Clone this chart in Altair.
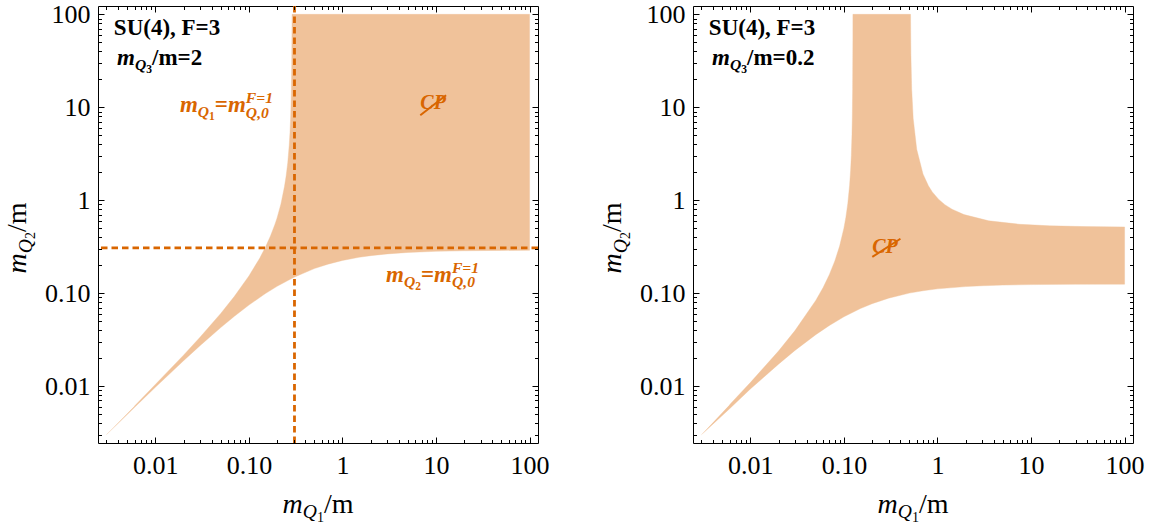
import altair as alt
import pandas as pd

# ---------------- data ----------------
LOG_LO, LOG_HI = -2.613, 2.09
domain = [10 ** LOG_LO, 10 ** LOG_HI]

major_ticks = [0.01, 0.1, 1, 10, 100]
minor_ticks = [0.003, 0.004, 0.005, 0.006, 0.007, 0.008, 0.009,
               0.02, 0.03, 0.04, 0.05, 0.06, 0.07, 0.08, 0.09,
               0.2, 0.3, 0.4, 0.5, 0.6, 0.7, 0.8, 0.9,
               2, 3, 4, 5, 6, 7, 8, 9,
               20, 30, 40, 50, 60, 70, 80, 90]

# left panel (m_Q3/m = 2): boundary of the shaded region
L_lower_x = [0.003, 0.006, 0.01, 0.02, 0.03, 0.05, 0.07, 0.1, 0.15, 0.2, 0.3,
             0.5, 0.7, 1, 1.5, 2, 3, 5, 10, 20, 50, 100]
L_lower_y = [0.003, 0.0059, 0.0097, 0.0187, 0.0272, 0.0426, 0.0564, 0.0744, 0.0989,
             0.1183, 0.1474, 0.1835, 0.205, 0.2247, 0.2429, 0.2532, 0.2643, 0.274,
             0.2817, 0.2857, 0.2882, 0.289]
L_upper_x = [0.289, 0.2888, 0.287, 0.284, 0.28, 0.275, 0.27, 0.26, 0.25, 0.24, 0.22,
             0.2, 0.19, 0.17, 0.15, 0.13, 0.1, 0.07, 0.05, 0.03, 0.02, 0.01, 0.006]
L_upper_y = [100, 79, 29.1, 14.1, 8.24, 5.37, 3.94, 2.52, 1.82, 1.40, 0.913,
             0.645, 0.552, 0.411, 0.311, 0.236, 0.153, 0.0923, 0.0604, 0.0335, 0.0215,
             0.0104, 0.0061]
mq0_F1 = 0.307

# right panel (m_Q3/m = 0.2)
R_lower_x = [0.003, 0.006, 0.01, 0.02, 0.03, 0.05, 0.07, 0.1, 0.15, 0.2, 0.3, 0.5,
             0.7, 1, 2, 3, 5, 10, 30, 100]
R_lower_y = [0.003, 0.0057, 0.0093, 0.0172, 0.0242, 0.0357, 0.0449, 0.0556, 0.0682,
             0.0769, 0.0882, 0.1, 0.1061, 0.1111, 0.1176, 0.12, 0.122, 0.1235,
             0.1245, 0.1248]
R_corner_x = [100, 37, 15.8, 7.59, 3.53, 1.92, 1.43, 1.2, 1.026, 0.88, 0.8, 0.7,
              0.6, 0.55, 0.53, 0.52, 0.5155]
R_corner_y = [0.5155, 0.52, 0.53, 0.55, 0.6, 0.7, 0.8, 0.8955, 1.0253, 1.229, 1.4286,
              1.918, 3.53, 7.59, 15.8, 37, 100]
R_upper_x = [0.1248, 0.1247, 0.124, 0.123, 0.122, 0.12, 0.118, 0.115, 0.11, 0.105,
             0.1, 0.09, 0.08, 0.07, 0.06, 0.05, 0.03, 0.02, 0.01, 0.006]
R_upper_y = [100, 52, 15.5, 7.69, 5.08, 3.0, 2.11, 1.44, 0.917, 0.656,
             0.5, 0.321, 0.222, 0.159, 0.115, 0.0833, 0.0395, 0.0238, 0.0109, 0.0063]

# ---------------- style ----------------
FILL = "#F0C29A"
ORANGE = "#D96600"
FONT = "Liberation Serif"
W, H = 440, 437

LABEL_EXPR = ("datum.value < 0.05 ? '0.01' : datum.value < 0.5 ? '0.10' : "
              "datum.value < 5 ? '1' : datum.value < 50 ? '10' : '100'")

REG = {'0': 500, '1': 500, '2': 500, '3': 500, '4': 500, '.': 250, ',': 250, '/': 278,
       'm': 778, '=': 564, ' ': 250, '(': 333, ')': 333}
ITA = {'m': 722, 'Q': 722, 'F': 611, '=': 675, ',': 250, '/': 278}
BLD = {'S': 556, 'U': 722, '(': 333, ')': 333, ',': 250, ' ': 250, 'F': 611, '=': 570,
       '/': 278, 'm': 833, '.': 250}
BIT = {'m': 778, 'Q': 722, 'F': 667, '=': 570, ',': 250, 'C': 667, 'P': 611}


def seg_width(text, size, bold, italic):
    table = {(False, False): REG, (False, True): ITA,
             (True, False): BLD, (True, True): BIT}[(bold, italic)]
    return sum(table.get(c, 500) for c in text) * size / 1000.0


def rich(segments, enc, data, color, angle=0, center=False):
    offs = []
    pos = 0.0
    for (t, s, b, i, sh, adv) in segments:
        offs.append(pos)
        if adv:
            pos += seg_width(t, s, b, i)
    start = -pos / 2 if center else 0.0
    layers = []
    for (t, s, b, i, sh, adv), o in zip(segments, offs):
        kw = dict(text=t, align="left", baseline="alphabetic", dx=start + o, dy=sh,
                  fontSize=s, font=FONT, color=color,
                  fontWeight="bold" if b else "normal",
                  fontStyle="italic" if i else "normal")
        if angle:
            kw["angle"] = angle
        layers.append(alt.Chart(data).mark_text(**kw).encode(**enc))
    return layers


def axis(orient, values, size, labels):
    kw = dict(orient=orient, values=values, tickSize=size, offset=-size,
              domain=False, grid=False, ticks=True, tickColor="black", tickWidth=1,
              labels=labels, title=None, zindex=1)
    if labels:
        kw.update(labelFont=FONT, labelFontSize=26, labelColor="black",
                  labelPadding=9 if orient == "bottom" else 8,
                  labelExpr=LABEL_EXPR, labelOverlap=False, labelFlush=False)
    return alt.Axis(**kw)


def label_mQ(idx, size):
    return [("m", size, False, True, 0, True),
            ("Q", size * 0.7, False, True, size * 0.2, True),
            (idx, size * 0.5, False, False, size * 0.32, True),
            ("/m", size, False, False, 0, True)]


def orange_label(idx, size):
    return [("m", size, True, True, 0, True),
            ("Q", size * 0.68, True, True, size * 0.22, True),
            (idx, size * 0.5, True, False, size * 0.36, True),
            ("=", size, True, False, 0, True),
            ("m", size, True, True, 0, True),
            ("F=1", size * 0.68, True, True, -size * 0.4, False),
            ("Q,0", size * 0.68, True, True, size * 0.24, True)]


def mq3_label(val, size):
    return [("m", size, True, True, 0, True),
            ("Q", size * 0.68, True, True, size * 0.22, True),
            ("3", size * 0.5, True, False, size * 0.36, True),
            ("/m=" + val, size, True, False, 0, True)]


def panel(px, py, mq3, cp_pos, slash, dashed):
    xs = alt.Scale(type="log", domain=domain, nice=False)
    ys = alt.Scale(type="log", domain=domain, nice=False)
    df = pd.DataFrame({"x": px, "y": py, "i": list(range(len(px)))})

    def XF(f, ax=None):
        return alt.X(f, type="quantitative", scale=xs, axis=ax)

    def YF(f, ax=None):
        return alt.Y(f, type="quantitative", scale=ys, axis=ax)

    layers = []
    layers.append(alt.Chart(df).mark_line(color=FILL, fill=FILL, strokeWidth=0.4,
                                          interpolate="linear").encode(
        x=XF("x", axis("bottom", major_ticks, 6, True)),
        y=YF("y", axis("left", major_ticks, 6, True)),
        order="i:Q"))
    for (ox, oy, vals, sz) in [("bottom", "left", minor_ticks, 3.5),
                               ("top", "right", major_ticks, 6),
                               ("top", "right", minor_ticks, 3.5)]:
        layers.append(alt.Chart(df).mark_point(opacity=0).encode(
            x=XF("x", axis(ox, vals, sz, False)),
            y=YF("y", axis(oy, vals, sz, False))))

    if dashed:
        dv = pd.DataFrame({"v": [mq0_F1]})
        layers.append(alt.Chart(dv).mark_rule(color=ORANGE, strokeDash=[6.5, 4],
                                              strokeWidth=2.8).encode(x=XF("v")))
        layers.append(alt.Chart(dv).mark_rule(color=ORANGE, strokeDash=[6.5, 4],
                                              strokeWidth=2.8).encode(y=YF("v")))

    def anchor(xa, ya):
        d = pd.DataFrame({"ax": [xa], "ay": [ya]})
        return d, dict(x=XF("ax"), y=YF("ay"))

    d, e = anchor(0.0036, 60.0)
    layers += rich([("SU(4), F=3", 23, True, False, 0, True)], e, d, "black")
    d, e = anchor(0.0039, 28.5)
    layers += rich(mq3_label(mq3, 23), e, d, "black")

    if dashed:
        d, e = anchor(0.0183, 8.9)
        layers += rich(orange_label("1", 23), e, d, ORANGE)
        d, e = anchor(2.92, 0.132)
        layers += rich(orange_label("2", 23), e, d, ORANGE)

    d, e = anchor(*cp_pos)
    layers += rich([("CP", 20, True, True, 0, True)], e, d, ORANGE)
    sd = pd.DataFrame({"x1": [slash[0]], "y1": [slash[1]], "x2": [slash[2]], "y2": [slash[3]]})
    layers.append(alt.Chart(sd).mark_rule(color=ORANGE, strokeWidth=2).encode(
        x=XF("x1"), y=YF("y1"), x2="x2", y2="y2"))

    one = pd.DataFrame({"k": [0]})
    layers += rich(label_mQ("1", 28), dict(x=alt.value(W / 2), y=alt.value(506.7)),
                   one, "black", center=True)
    layers += rich(label_mQ("2", 28), dict(x=alt.value(-72), y=alt.value(232)),
                   one, "black", angle=270, center=True)

    return alt.layer(*layers).resolve_axis(x="independent", y="independent").properties(
        width=W, height=H)


# polygons: lower boundary, far corner(s), then back down the upper boundary
left_px = L_lower_x + [100] + L_upper_x
left_py = L_lower_y + [100] + L_upper_y
right_px = R_lower_x + R_corner_x + R_upper_x
right_py = R_lower_y + R_corner_y + R_upper_y

left = panel(left_px, left_py, "2", (6.8, 9.66), (6.79, 8.2, 12.8, 13.5), True)
right = panel(right_px, right_py, "0.2", (0.201, 0.272), (0.201, 0.245, 0.402, 0.385), False)

chart = alt.hconcat(left, right, spacing=155, bounds="flush").properties(
    padding={"left": 3, "top": 0, "right": 0, "bottom": 0},
    background="white",
).configure_view(stroke="black", strokeWidth=1)

chart.save("out.html", embed_options={"renderer": "svg", "actions": False})
